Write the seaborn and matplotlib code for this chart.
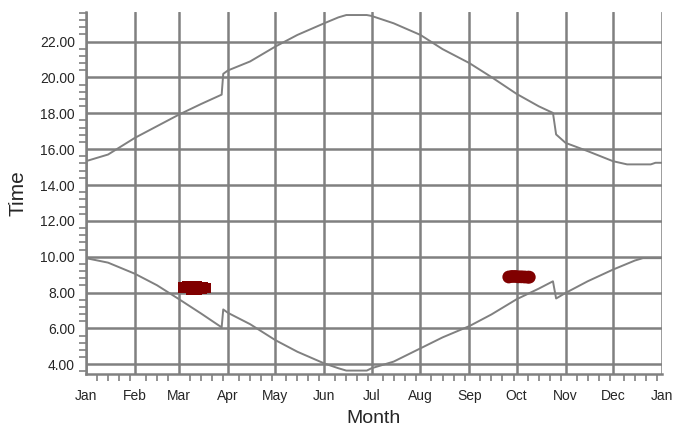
import matplotlib
matplotlib.use('Agg')
import matplotlib.pyplot as plt
import seaborn as sns
import numpy as np
import pandas as pd

# day-of-year (0 = Jan 1) and times
upper_days = [0, 14, 31, 45, 59, 73, 86, 87, 90, 104, 120, 134, 151, 160, 165, 178,
              181, 195, 212, 226, 243, 257, 273, 287, 296, 298, 304, 318, 334, 343,
              358, 361, 365]
upper_vals = [15.33, 15.70, 16.63, 17.28, 17.93, 18.52, 19.04, 20.20, 20.39, 20.89,
              21.72, 22.37, 23.02, 23.35, 23.48, 23.48, 23.43, 23.02, 22.37, 21.58,
              20.80, 20.02, 19.08, 18.39, 18.02, 16.82, 16.35, 15.89, 15.33, 15.15,
              15.15, 15.24, 15.24]

lower_days = [0, 9, 14, 31, 45, 59, 73, 86, 87, 90, 104, 120, 134, 151, 160, 165,
              178, 181, 195, 212, 226, 243, 257, 273, 287, 296, 298, 304, 318, 334,
              348, 353, 365]
lower_vals = [9.92, 9.76, 9.67, 9.05, 8.41, 7.63, 6.83, 6.06, 7.06, 6.87, 6.24, 5.35,
              4.70, 4.05, 3.78, 3.65, 3.65, 3.78, 4.15, 4.89, 5.50, 6.13, 6.78, 7.63,
              8.22, 8.63, 7.67, 7.98, 8.63, 9.28, 9.79, 9.92, 9.92]

mar_days = [62, 64, 66, 68, 70, 72, 74, 76, 67, 70, 73]
mar_vals = [8.28, 8.32, 8.33, 8.33, 8.32, 8.30, 8.28, 8.25, 8.18, 8.18, 8.20]

oct_days = [268, 270, 272, 274, 276, 278, 280, 281]
oct_vals = [8.87, 8.90, 8.90, 8.88, 8.88, 8.87, 8.86, 8.86]

month_starts = [0, 31, 59, 90, 120, 151, 181, 212, 243, 273, 304, 334, 365]
month_labels = ['Jan', 'Feb', 'Mar', 'Apr', 'May', 'Jun', 'Jul', 'Aug', 'Sep',
                'Oct', 'Nov', 'Dec', 'Jan']

sns.set_style('white')
plt.rcParams['font.family'] = ['Liberation Sans', 'DejaVu Sans']

grey = '#808080'
fig = plt.figure(figsize=(6.76, 4.28), dpi=100)
ax = fig.add_axes([0.1272, 0.1262, 0.8518, 0.8458])

up = pd.DataFrame({'day': upper_days, 'time': upper_vals})
lo = pd.DataFrame({'day': lower_days, 'time': lower_vals})
sns.lineplot(data=up, x='day', y='time', sort=False, color=grey, lw=1.4, ax=ax)
sns.lineplot(data=lo, x='day', y='time', sort=False, color=grey, lw=1.4, ax=ax)

sns.scatterplot(x=mar_days, y=mar_vals, marker='s', s=60, color='#800000',
                edgecolor='none', ax=ax, zorder=4)
sns.scatterplot(x=oct_days, y=oct_vals, marker='o', s=85, color='#800000',
                edgecolor='none', ax=ax, zorder=4)

ax.set_xlim(0, 365)
ax.set_ylim(3.46, 23.65)

ax.set_xticks(month_starts)
ax.set_xticklabels(month_labels, fontsize=10)
minor_x = []
for i in range(12):
    for k in (7, 14, 21, 28):
        d = month_starts[i] + k
        if d < month_starts[i + 1] - 1:
            minor_x.append(d)
ax.set_xticks(minor_x, minor=True)

yt = np.arange(4, 24, 2)
ax.set_yticks(yt)
ax.set_yticklabels([f'{v:.2f}' for v in yt], fontsize=10)
ax.set_yticks(np.arange(3.6, 23.65, 0.4), minor=True)

ax.grid(True, which='major', color=grey, lw=1.8)
ax.set_axisbelow(True)
for s in ('top', 'right'):
    ax.spines[s].set_visible(False)
for s in ('left', 'bottom'):
    ax.spines[s].set_color(grey)
    ax.spines[s].set_linewidth(1.8)

ax.tick_params(axis='x', which='major', direction='out', length=9, width=1.5,
               color=grey, pad=2)
ax.tick_params(axis='x', which='minor', direction='out', length=5, width=1.2,
               color=grey, bottom=True)
ax.tick_params(axis='y', which='major', direction='out', length=6, width=1.5,
               color=grey, pad=2)
ax.tick_params(axis='y', which='minor', direction='out', length=5, width=1.2,
               color=grey, left=True)

ax.set_xlabel('Month', fontsize=14, labelpad=5)
ax.set_ylabel('Time', fontsize=15, labelpad=9)

fig.savefig('out.png', dpi=100)
